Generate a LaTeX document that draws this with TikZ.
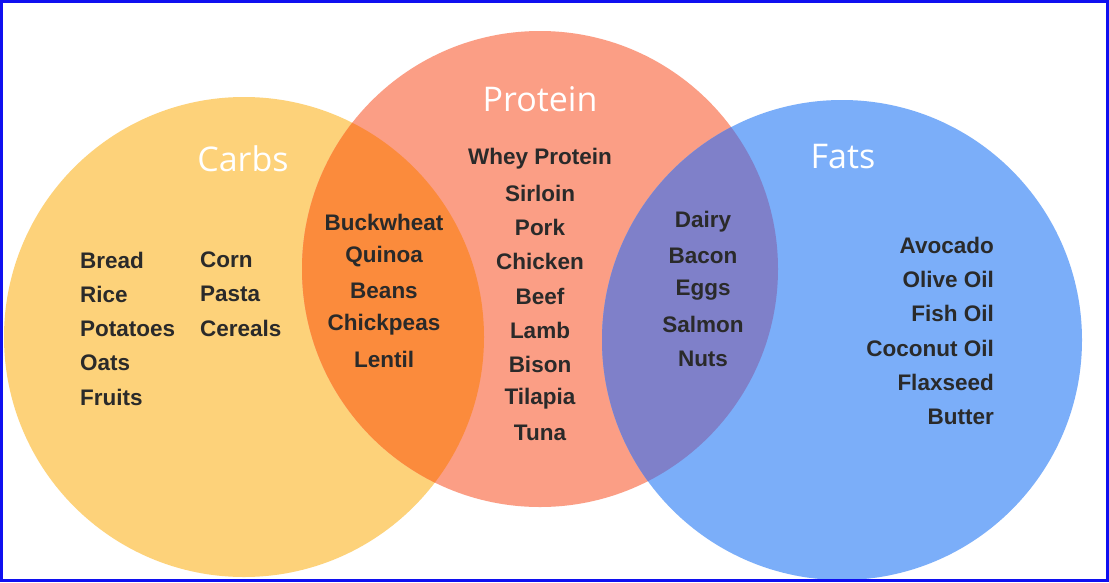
\documentclass[tikz,border=0pt]{standalone}
\usepackage{fontspec}
\setmainfont{Liberation Sans}
\newfontfamily\titlefont{Open Sans}
\definecolor{carb}{HTML}{FDD27A}
\definecolor{prot}{HTML}{FB9E85}
\definecolor{fat}{HTML}{7BAEF9}
\definecolor{cp}{HTML}{FB8B3C}
\definecolor{pf}{HTML}{7F80C9}
\definecolor{txt}{HTML}{2A2A2A}
\definecolor{frame}{HTML}{1010F0}
\tikzset{item/.style={font=\bfseries\fontsize{22.5}{26}\selectfont,text=txt,inner sep=0pt},
 ttl/.style={font=\titlefont\fontsize{34}{40}\selectfont,text=white,inner sep=0pt}}
\begin{document}
\begin{tikzpicture}[x=1pt,y=-1pt]
\useasboundingbox (0,0) rectangle (1109,582);
\fill[white] (0,0) rectangle (1109,582);
\coordinate (C) at (244,337); \coordinate (P) at (540,269); \coordinate (F) at (842,340);
\fill[carb] (C) circle (240);
\fill[prot] (P) circle (238);
\fill[fat] (F) circle (240);
\begin{scope}\clip (C) circle (240); \fill[cp] (P) circle (238);\end{scope}
\begin{scope}\clip (F) circle (240); \fill[pf] (P) circle (238);\end{scope}
\draw[frame,line width=3pt] (1.5,1.5) rectangle (1107.5,580.5);
\node[ttl] (tc) at (243,159) {Carbs};
\node[ttl] (tp) at (540,99) {Protein};
\node[ttl] (tf) at (843,157) {Fats};
\foreach \t [count=\i] in {Bread,Rice,Potatoes,Oats,Fruits}
  \node[item,anchor=west] (a\i) at (80,{260+34.3*(\i-1)}) {\t};
\foreach \t [count=\i] in {Corn,Pasta,Cereals}
  \node[item,anchor=west] (b\i) at (200,{260+34.3*(\i-1)}) {\t};
\foreach \t [count=\i] in {Buckwheat,Quinoa,Beans,Chickpeas,Lentil}
  \node[item] (c\i) at (384,{222+34.3*(\i-1)}) {\t};
\foreach \t [count=\i] in {Whey Protein,Sirloin,Pork,Chicken,Beef,Lamb,Bison,Tilapia,Tuna}
  \node[item] (p\i) at (540,{159+34.25*(\i-1)}) {\t};
\foreach \t [count=\i] in {Dairy,Bacon,Eggs,Salmon,Nuts}
  \node[item] (d\i) at (703,{222+34.3*(\i-1)}) {\t};
\foreach \t [count=\i] in {Avocado,Olive Oil,Fish Oil,Coconut Oil,Flaxseed,Butter}
  \node[item,anchor=east] (f\i) at (994,{245+34.4*(\i-1)}) {\t};
\end{tikzpicture}
\end{document}
